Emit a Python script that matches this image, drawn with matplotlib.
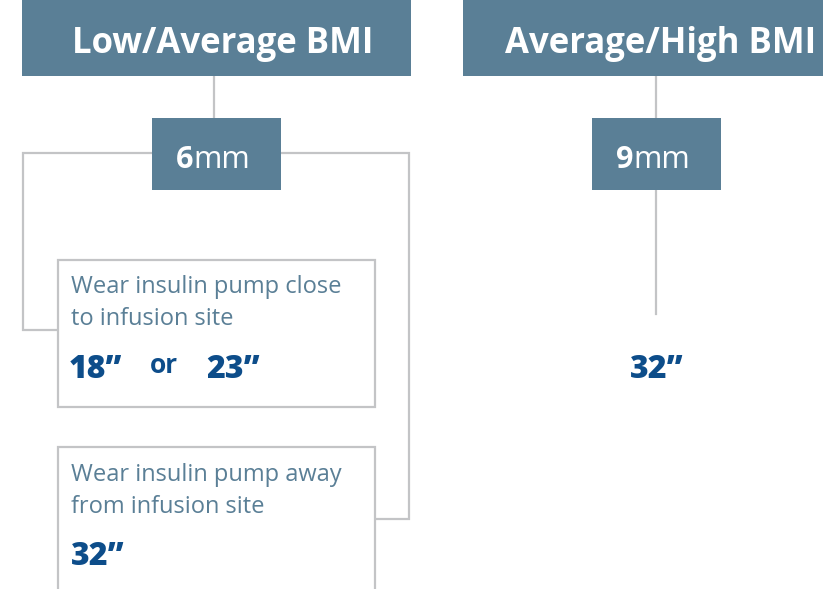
import matplotlib.pyplot as plt
from matplotlib.patches import Rectangle

# content
groups = ["Low/Average BMI", "Average/High BMI"]
needle_len = ["6", "9"]
options_left = [["Wear insulin pump close", "to infusion site"],
                ["Wear insulin pump away", "from infusion site"]]
tubing_left = [["18\u201d", "23\u201d"], ["32\u201d"]]
tubing_right = "32\u201d"

BOX = "#5a7f96"
LINE = "#c3c4c6"
TXT = "#5a7f96"
NUM = "#0d4d8a"
FONT = ["Open Sans", "DejaVu Sans"]

fig = plt.figure(figsize=(8.23, 5.89), dpi=100)
ax = fig.add_axes([0, 0, 1, 1])
ax.set_xlim(0, 823)
ax.set_ylim(589, 0)
ax.axis("off")


def box(x0, y0, x1, y1, fill=True):
    if fill:
        ax.add_patch(Rectangle((x0, y0), x1 - x0, y1 - y0, fc=BOX, ec="none", zorder=2))
    else:
        ax.add_patch(Rectangle((x0, y0), x1 - x0, y1 - y0, fc="white", ec=LINE, lw=1.6, zorder=2))


def line(xs, ys):
    ax.plot(xs, ys, color=LINE, lw=1.6, zorder=1, solid_joinstyle="miter")


def num(x, y, s, ha="left"):
    ax.text(x, y, s, color=NUM, fontsize=23, fontweight=800,
            ha=ha, va="baseline", family=FONT, zorder=3)


# headers
box(22, 0, 411, 76)
box(463, 0, 840, 76)
ax.text(223, 53, groups[0], color="white", fontsize=25, fontweight="bold",
        ha="center", va="baseline", family=FONT, zorder=3)
ax.text(661, 53, groups[1], color="white", fontsize=25, fontweight="bold",
        ha="center", va="baseline", family=FONT, zorder=3)

# connectors
line([214, 214], [76, 118])
line([656, 656], [76, 118])
line([656, 656], [190, 314])
line([152, 23, 23, 58], [153, 153, 330, 330])
line([281, 409, 409, 375], [153, 153, 519, 519])

# needle boxes
for x0, n in [(152, needle_len[0]), (592, needle_len[1])]:
    box(x0, 118, x0 + 129, 190)
    t = ax.text(x0 + 24, 168, n, color="white", fontsize=22, fontweight="bold",
                ha="left", va="baseline", family=FONT, zorder=3)
    ax.annotate("mm", xycoords=t, xy=(1, 0), va="bottom", ha="left",
                color="white", fontsize=22, family=FONT, zorder=3)

# option boxes
box(58, 260, 375, 407, fill=False)
box(58, 447, 375, 600, fill=False)
for y, lines in [(293, options_left[0]), (481, options_left[1])]:
    for k, s in enumerate(lines):
        ax.text(71, y + 32 * k, s, color=TXT, fontsize=17, ha="left", va="baseline",
                family=FONT, zorder=3)

num(69, 378, tubing_left[0][0])
ax.text(150, 373, "or", color=NUM, fontsize=19, fontweight="bold",
        ha="left", va="baseline", family=FONT, zorder=3)
num(206, 378, tubing_left[0][1])
num(71, 565, tubing_left[1][0])
num(657, 378, tubing_right, ha="center")

fig.savefig("out.png", dpi=100)
